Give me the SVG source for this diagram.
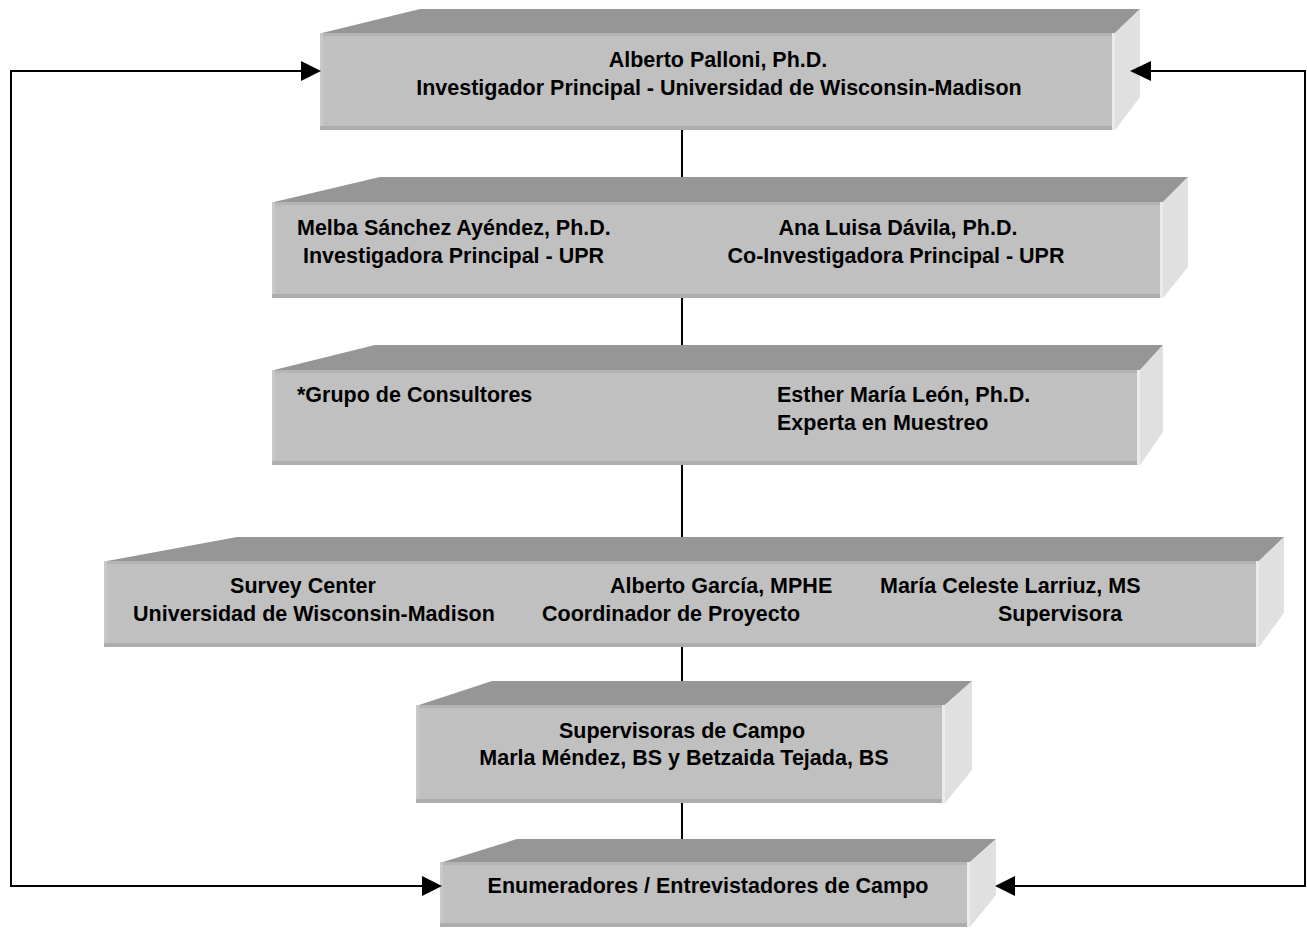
<svg xmlns="http://www.w3.org/2000/svg" width="1307" height="937" viewBox="0 0 1307 937">
<style>
.front{fill:#c0c0c0}
.top{fill:#969696}
.side{fill:#e0e0e0}
.bt{fill:#b4b4b4}
.bl{fill:#c9c9c9}
.bb{fill:#adadad}
.br{fill:#ebebeb}
.ln{stroke:#000;stroke-width:2;fill:none}
.ah{fill:#000}
text{font-family:"Liberation Sans",Arial,sans-serif;font-weight:bold;font-size:21.5px;fill:#000}
.c{text-anchor:middle}
</style>
<rect width="1307" height="937" fill="#fff"/>
<g id="n1">
<polygon class="top" points="322,33 420,9 1140,9 1115,33"/>
<polygon class="side" points="1115,33 1140,9 1140,97 1115,130"/>
<rect class="front" x="320" y="33" width="795" height="97"/>
<rect class="bt" x="320" y="33" width="795" height="3"/>
<rect class="bl" x="320" y="33" width="3" height="97"/>
<rect class="bb" x="320" y="126" width="795" height="4"/>
<rect class="br" x="1112" y="33" width="3" height="97"/>
<text class="c" x="718" y="67">Alberto Palloni, Ph.D.</text>
<text class="c" x="719" y="95">Investigador Principal - Universidad de Wisconsin-Madison</text>
</g>
<g id="n2">
<polygon class="top" points="274,202 380,177 1188,177 1163,202"/>
<polygon class="side" points="1163,202 1188,177 1188,267 1163,298"/>
<rect class="front" x="272" y="202" width="891" height="96"/>
<rect class="bt" x="272" y="202" width="891" height="3"/>
<rect class="bl" x="272" y="202" width="3" height="96"/>
<rect class="bb" x="272" y="294" width="891" height="4"/>
<rect class="br" x="1160" y="202" width="3" height="96"/>
<text x="297" y="235">Melba Sánchez Ayéndez, Ph.D.</text>
<text x="303" y="263">Investigadora Principal - UPR</text>
<text class="c" x="898" y="235">Ana Luisa Dávila, Ph.D.</text>
<text class="c" x="896" y="263">Co-Investigadora Principal - UPR</text>
</g>
<g id="n3">
<polygon class="top" points="274,370 375,345 1163,345 1140,370"/>
<polygon class="side" points="1140,370 1163,345 1163,432 1140,465"/>
<rect class="front" x="272" y="370" width="868" height="95"/>
<rect class="bt" x="272" y="370" width="868" height="3"/>
<rect class="bl" x="272" y="370" width="3" height="95"/>
<rect class="bb" x="272" y="461" width="868" height="4"/>
<rect class="br" x="1137" y="370" width="3" height="95"/>
<text x="297" y="402">*Grupo de Consultores</text>
<text x="777" y="402">Esther María León, Ph.D.</text>
<text x="777" y="430">Experta en Muestreo</text>
</g>
<g id="n4">
<polygon class="top" points="107,561 237,537 1284,537 1259,561"/>
<polygon class="side" points="1259,561 1284,537 1284,613 1259,647"/>
<rect class="front" x="104" y="561" width="1155" height="86"/>
<rect class="bt" x="104" y="561" width="1155" height="3"/>
<rect class="bl" x="104" y="561" width="3" height="86"/>
<rect class="bb" x="104" y="643" width="1155" height="4"/>
<rect class="br" x="1256" y="561" width="3" height="86"/>
<text class="c" x="303" y="593">Survey Center</text>
<text class="c" x="314" y="621">Universidad de Wisconsin-Madison</text>
<text x="610" y="593">Alberto García, MPHE</text>
<text x="542" y="621">Coordinador de Proyecto</text>
<text x="880" y="593">María Celeste Larriuz, MS</text>
<text x="998" y="621">Supervisora</text>
</g>
<g id="n5">
<polygon class="top" points="419,705 492,681 972,681 945,705"/>
<polygon class="side" points="945,705 972,681 972,770 945,803"/>
<rect class="front" x="416" y="705" width="529" height="98"/>
<rect class="bt" x="416" y="705" width="529" height="3"/>
<rect class="bl" x="416" y="705" width="3" height="98"/>
<rect class="bb" x="416" y="799" width="529" height="4"/>
<rect class="br" x="942" y="705" width="3" height="98"/>
<text class="c" x="682" y="738">Supervisoras de Campo</text>
<text class="c" x="684" y="765">Marla Méndez, BS y Betzaida Tejada, BS</text>
</g>
<g id="n6">
<polygon class="top" points="443,862 517,839 996,839 970,862"/>
<polygon class="side" points="970,862 996,839 996,895 970,927"/>
<rect class="front" x="440" y="862" width="530" height="65"/>
<rect class="bt" x="440" y="862" width="530" height="3"/>
<rect class="bl" x="440" y="862" width="3" height="65"/>
<rect class="bb" x="440" y="923" width="530" height="4"/>
<rect class="br" x="967" y="862" width="3" height="65"/>
<text class="c" x="708" y="893">Enumeradores / Entrevistadores de Campo</text>
</g>
<g id="connectors">
<line class="ln" x1="682" y1="130" x2="682" y2="177"/>
<line class="ln" x1="682" y1="298" x2="682" y2="345"/>
<line class="ln" x1="682" y1="465" x2="682" y2="537"/>
<line class="ln" x1="682" y1="647" x2="682" y2="681"/>
<line class="ln" x1="682" y1="803" x2="682" y2="839"/>
<polyline class="ln" points="302,71 11,71 11,886 423,886"/>
<polyline class="ln" points="1150,71 1305,71 1305,886 1014,886"/>
<polygon class="ah" points="321,71 301,61 301,81"/>
<polygon class="ah" points="1130,71 1151,61 1151,81"/>
<polygon class="ah" points="442,886 422,876 422,896"/>
<polygon class="ah" points="995,886 1015,876 1015,896"/>
</g>
</svg>
